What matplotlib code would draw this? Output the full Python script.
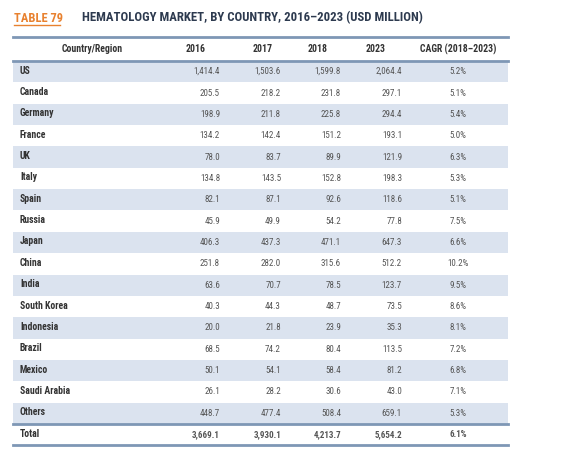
#!/usr/bin/env python3
"""Recreate Table 79: hematology market by country, 2016-2023 (USD million)."""

import matplotlib
matplotlib.use("Agg")
import matplotlib.pyplot as plt

TABLE_NO = "TABLE 79"
TITLE = "HEMATOLOGY MARKET, BY COUNTRY, 2016–2023 (USD MILLION)"
HEADERS = ["Country/Region", "2016", "2017", "2018", "2023", "CAGR (2018–2023)"]

countries = ["US", "Canada", "Germany", "France", "UK", "Italy", "Spain", "Russia",
             "Japan", "China", "India", "South Korea", "Indonesia", "Brazil",
             "Mexico", "Saudi Arabia", "Others"]
v2016 = [1414.4, 205.5, 198.9, 134.2, 78.0, 134.8, 82.1, 45.9, 406.3, 251.8,
         63.6, 40.3, 20.0, 68.5, 50.1, 26.1, 448.7]
v2017 = [1503.6, 218.2, 211.8, 142.4, 83.7, 143.5, 87.1, 49.9, 437.3, 282.0,
         70.7, 44.3, 21.8, 74.2, 54.1, 28.2, 477.4]
v2018 = [1599.8, 231.8, 225.8, 151.2, 89.9, 152.8, 92.6, 54.2, 471.1, 315.6,
         78.5, 48.7, 23.9, 80.4, 58.4, 30.6, 508.4]
v2023 = [2064.4, 297.1, 294.4, 193.1, 121.9, 198.3, 118.6, 77.8, 647.3, 512.2,
         123.7, 73.5, 35.3, 113.5, 81.2, 43.0, 659.1]
cagr = [5.2, 5.1, 5.4, 5.0, 6.3, 5.3, 5.1, 7.5, 6.6, 10.2, 9.5, 8.6, 8.1, 7.2,
        6.8, 7.1, 5.3]
total = [3669.1, 3930.1, 4213.7, 5654.2]
total_cagr = 6.1

BAND = "#dbe3ef"
RULE = "#7e97b5"
NAVY = "#2d3a4f"
ORANGE = "#e8812f"
TEXT = "#333333"
NUM = "#555555"

plt.rcParams["font.family"] = ["Roboto Condensed", "DejaVu Sans"]

fig = plt.figure(figsize=(5.68, 4.58), dpi=100)
ax = fig.add_axes([0, 0, 1, 1])
ax.set_xlim(0, 568)
ax.set_ylim(458, 0)
ax.axis("off")

left, right = 13, 508
header_top, header_bottom = 37, 61
row_h = 21.35
value_x = [220, 281, 341, 402]
header_x = [92, 196, 263, 318, 376, 458]

ax.text(14, 18, TABLE_NO, color=ORANGE, fontsize=9, fontweight="bold", va="center")
ax.plot([14, 60], [24.5, 24.5], color=ORANGE, lw=1)
ax.text(82, 18, TITLE, color=NAVY, fontsize=9.2, fontweight="bold", va="center")

ax.plot([left, right], [header_top, header_top], color=RULE, lw=2)
ax.plot([left, right], [header_bottom, header_bottom], color=RULE, lw=2)
for x, h in zip(header_x, HEADERS):
    ax.text(x, (header_top + header_bottom) / 2, h, ha="center", va="center",
            fontsize=7, fontweight="bold", color=TEXT)


def fmt(v):
    return f"{v:,.1f}"


for i, name in enumerate(countries):
    top = header_bottom + i * row_h
    if i % 2 == 0:
        ax.fill_between([left, right], top, top + row_h, color=BAND, lw=0)
    yc = top + row_h / 2 - 1
    ax.text(20, yc, name, ha="left", va="center", fontsize=7, fontweight="bold", color=TEXT)
    for x, vals in zip(value_x, [v2016, v2017, v2018, v2023]):
        ax.text(x, yc + 1, fmt(vals[i]), ha="right", va="center", fontsize=6.5, color=NUM)
    ax.text(458, yc + 1, f"{cagr[i]:.1f}%", ha="center", va="center", fontsize=6.5, color=NUM)

total_top = header_bottom + len(countries) * row_h
total_bottom = total_top + row_h
ax.plot([left, right], [total_top, total_top], color=RULE, lw=2)
ax.plot([left, right], [total_bottom, total_bottom], color=RULE, lw=2)
yc = total_top + row_h / 2 - 1
ax.text(20, yc, "Total", ha="left", va="center", fontsize=7, fontweight="bold", color=TEXT)
for x, v in zip(value_x, total):
    ax.text(x, yc + 1, fmt(v), ha="right", va="center", fontsize=6.5, fontweight="bold", color=NUM)
ax.text(458, yc + 1, f"{total_cagr:.1f}%", ha="center", va="center", fontsize=6.5,
        fontweight="bold", color=NUM)

fig.savefig("out.png", dpi=100)
plt.close(fig)
